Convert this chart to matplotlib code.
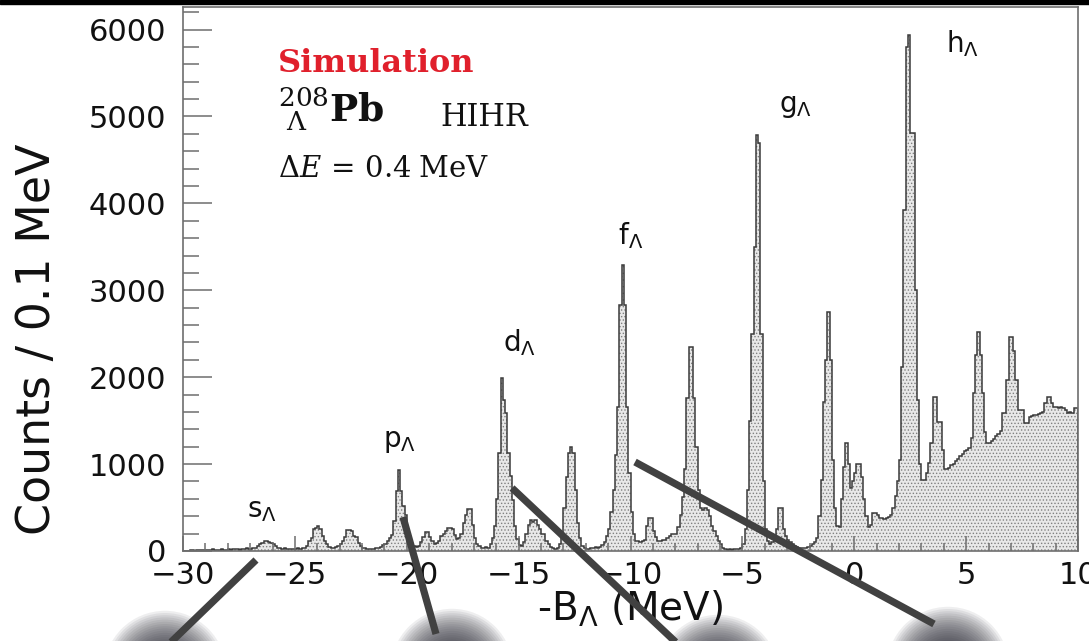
import numpy as np
import matplotlib.pyplot as plt
from matplotlib.ticker import MultipleLocator
from matplotlib.lines import Line2D
from matplotlib.patches import Ellipse, Rectangle

plt.rcParams['font.family'] = ['DejaVu Sans']
plt.rcParams['mathtext.fontset'] = 'dejavuserif'
plt.rcParams['hatch.linewidth'] = 0.6

# counts per 0.1 MeV bin (bins start at -30.0)
counts_m30_m20 = [
    0, 0, 5, 10, 10, 5, 10, 15, 10, 10,
    10, 15, 10, 20, 15, 10, 15, 20, 15, 10,
    20, 15, 20, 25, 20, 15, 20, 25, 30, 25,
    25, 30, 40, 60, 80, 95, 110, 110, 105, 90,
    75, 55, 40, 30, 25, 30, 20, 25, 20, 25,
    20, 30, 25, 30, 40, 60, 110, 150, 250, 270,
    285, 250, 170, 115, 80, 50, 40, 35, 45, 60,
    80, 115, 160, 240, 240, 235, 170, 160, 95, 60,
    40, 30, 25, 20, 25, 20, 30, 40, 50, 70,
    80, 110, 150, 180, 350, 690, 935, 690, 520, 420,
]
counts_m20_m10 = [
    200, 115, 80, 60, 50, 60, 100, 160, 220, 220,
    160, 110, 80, 90, 120, 170, 200, 230, 270, 270,
    250, 180, 140, 150, 200, 320, 420, 480, 480, 300,
    150, 80, 60, 40, 40, 50, 40, 80, 150, 290,
    600, 1130, 1990, 1740, 1590, 1130, 860, 590, 285, 135,
    70, 60, 100, 200, 300, 360, 330, 360, 300, 250,
    200, 190, 120, 80, 50, 30, 25, 40, 80, 200,
    500, 850, 1130, 1200, 1130, 700, 320, 150, 60, 30,
    20, 25, 30, 40, 50, 40, 50, 70, 100, 170,
    250, 450, 700, 1100, 1660, 2830, 3290, 2830, 1660, 900,
]
counts_m10_0 = [
    450, 200, 115, 110, 100, 110, 130, 285, 380, 380,
    230, 160, 115, 110, 130, 130, 150, 170, 200, 190,
    200, 280, 420, 620, 940, 1760, 2350, 2350, 1760, 1200,
    700, 500, 470, 500, 470, 400, 285, 230, 170, 120,
    80, 40, 20, 15, 20, 15, 20, 25, 20, 40,
    80, 250, 700, 1500, 2500, 3500, 4790, 4700, 2500, 800,
    250, 120, 80, 100, 150, 250, 490, 490, 250, 170,
    130, 100, 80, 60, 50, 40, 30, 30, 40, 50,
    60, 80, 100, 150, 400, 820, 1720, 2200, 2750, 2200,
    1050, 500, 285, 280, 600, 970, 1240, 1000, 730, 800,
]
counts_0_10 = [
    900, 1000, 1000, 850, 600, 400, 280, 300, 440, 440,
    420, 380, 380, 370, 380, 390, 420, 500, 630, 800,
    1050, 2120, 3920, 5800, 5940, 4810, 4810, 3000, 1740, 1000,
    820, 820, 900, 1010, 1240, 1775, 1775, 1490, 1490, 1160,
    940, 940, 960, 990, 1000, 1040, 1060, 1090, 1120, 1150,
    1160, 1180, 1300, 1820, 2255, 2525, 2255, 1820, 1370, 1240,
    1240, 1270, 1290, 1320, 1350, 1380, 1590, 1590, 1965, 2460,
    2460, 2300, 1965, 1620, 1620, 1620, 1470, 1470, 1540, 1550,
    1560, 1570, 1580, 1590, 1600, 1700, 1775, 1775, 1700, 1660,
    1660, 1650, 1660, 1640, 1620, 1590, 1600, 1590, 1640, 1645,
]

bin_lo, bin_hi, bin_width = -30.0, 10.0, 0.1

peak_names = ['s', 'p', 'd', 'f', 'g', 'h']
peak_label_x = [-27.15, -21.05, -15.7, -10.55, -3.35, 4.1]
peak_label_y = [380, 1200, 2290, 3530, 5050, 5740]

counts = np.array(counts_m30_m20 + counts_m20_m10 + counts_m10_0 + counts_0_10)
edges = np.round(np.arange(len(counts) + 1) * bin_width + bin_lo, 2)

W, H = 1089, 641
fig = plt.figure(figsize=(W / 100, H / 100), dpi=100)
ax = fig.add_axes([183 / W, 90 / H, 895 / W, 544 / H])

ax.stairs(counts, edges, fill=True, facecolor='#e8e8e8', edgecolor='#808080',
          hatch='.....', linewidth=0)
ax.stairs(counts, edges, color='#3a3a3a', linewidth=1.1)

ax.set_xlim(bin_lo, bin_hi)
ax.set_ylim(0, 6260)
ax.xaxis.set_major_locator(MultipleLocator(5))
ax.xaxis.set_minor_locator(MultipleLocator(1))
ax.yaxis.set_major_locator(MultipleLocator(1000))
ax.yaxis.set_minor_locator(MultipleLocator(200))

frame_col = '#6e6e6e'
for sp in ax.spines.values():
    sp.set_color(frame_col)
    sp.set_linewidth(1.2)
ax.tick_params(which='both', direction='in', top=False, right=False,
               color=frame_col, width=1.1, labelsize=22, labelcolor='#111111')
ax.tick_params(axis='x', which='major', length=11, pad=7)
ax.tick_params(axis='x', which='minor', length=5.5)
ax.tick_params(axis='y', which='major', length=21, pad=12)
ax.tick_params(axis='y', which='minor', length=11.5)

ax.text(-0.163, 0.39, 'Counts / 0.1 MeV', transform=ax.transAxes, rotation=90,
        ha='center', va='center', fontsize=33, color='#111111')
ax.text(0.4995, -0.105, r'-B$_\mathregular{\Lambda}$ (MeV)', transform=ax.transAxes,
        ha='center', va='center', fontsize=28, color='#111111')

for name, lx, ly in zip(peak_names, peak_label_x, peak_label_y):
    ax.text(lx, ly, name + r'$_\mathregular{\Lambda}$', fontsize=20, color='#111111',
            ha='left', va='baseline')

ax.text(0.106, 0.88, 'Simulation', transform=ax.transAxes, color='#e0202c',
        family='DejaVu Serif', fontweight='bold', fontsize=23, va='baseline')
ax.text(0.106, 0.79, r'${}^{208}_{\ \Lambda}\mathbf{Pb}$', transform=ax.transAxes,
        fontsize=27, va='baseline', color='#111111')
ax.text(0.288, 0.782, 'HIHR', transform=ax.transAxes, family='DejaVu Serif',
        fontsize=22, va='baseline', color='#111111')
ax.text(0.106, 0.688, r'$\Delta E\,=\,0.4\;\mathrm{MeV}$', transform=ax.transAxes,
        fontsize=21, va='baseline', color='#111111')

# pointer lines and blurred discs below the plot (figure pixels, y from top)
pointers = [((256, 560), (168, 645)), ((403, 517), (436, 634)),
            ((512, 488), (682, 648)), ((635, 462), (934, 624))]
discs = [(165, 672), (452, 670), (718, 676), (948, 668)]

for (x0, y0), (x1, y1) in pointers:
    fig.add_artist(Line2D([x0 / W, x1 / W], [1 - y0 / H, 1 - y1 / H],
                          color='#414141', linewidth=5.2, solid_capstyle='butt'))
for cx, cy in discs:
    for k in range(16):
        r = 26 + (16 - k) * 2.2
        fig.add_artist(Ellipse((cx / W, 1 - cy / H), 2 * r / W, 2 * r / H,
                               color='#2a2a35', alpha=0.08, linewidth=0))
    fig.add_artist(Ellipse((cx / W, 1 - cy / H), 50 / W, 50 / H,
                           color='#1c1c28', linewidth=0))

fig.add_artist(Rectangle((0, 1 - 4 / H), 1, 4 / H, color='black'))

fig.savefig('out.png', dpi=100)
